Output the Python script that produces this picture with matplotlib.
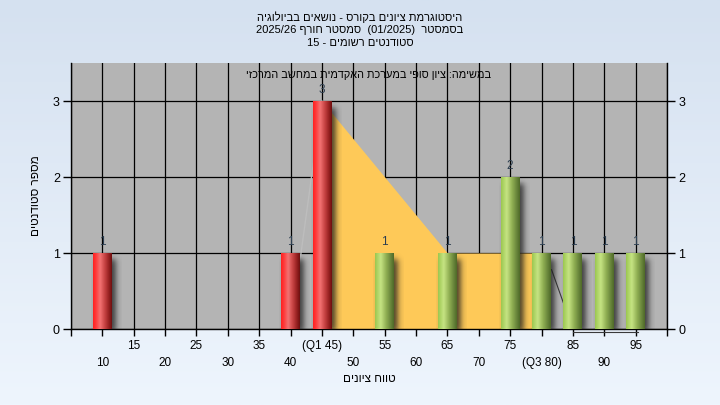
import re
import numpy as np
import matplotlib
matplotlib.use('Agg')
import matplotlib.pyplot as plt
from matplotlib.colors import LinearSegmentedColormap

plt.rcParams['font.family'] = ['Liberation Sans', 'DejaVu Sans']

# grade bins (centres) and number of students in each
bins = [10, 40, 45, 55, 65, 75, 80, 85, 90, 95]
counts = [1, 1, 3, 1, 1, 2, 1, 1, 1, 1]
q1, q3 = 45, 80

tick_vals = list(range(5, 101, 5))
tick_text = {45: '(Q1 45)', 80: '(Q3 80)'}

# yellow area between the quartiles
area_x = [45, 65, 78.5]
area_y = [3, 1, 1]
# faint helper lines
guide_x = [40, 45]
guide_y = [0, 3]
q3_x = [81.6, 83.5]
q3_y = [0.78, 0.34]
base_x = [85, 95.4]
base_y = [-0.035, -0.035]

title_lines = ['היסטוגרמת ציונים בקורס - נושאים בביולוגיה',
               'בסמסטר  (01/2025)  סמסטר חורף 2025/26',
               'סטודנטים רשומים - 15']
subtitle = 'במשימה: ציון סופי במערכת האקדמית במחשב המרכזי'
xlabel = 'טווח ציונים'
ylabel = 'מספר סטודנטים'


def rtl(s):
    # matplotlib has no bidi support -> build the visual order by hand
    r = s[::-1]
    r = re.sub(r'[0-9A-Za-z/.]+', lambda m: m.group(0)[::-1], r)
    return r.translate(str.maketrans('()', ')('))


def sig(t):
    return 1.0 / (1.0 + np.exp(-t))


red = LinearSegmentedColormap.from_list('red', [
    (0, '#ff2020'), (0.15, '#ff3a3a'), (0.38, '#f27272'),
    (0.62, '#c84444'), (0.85, '#962020'), (1, '#6e1010')])
green = LinearSegmentedColormap.from_list('green', [
    (0, '#9cc850'), (0.3, '#c6e483'), (0.6, '#8fae52'),
    (0.85, '#66833a'), (1, '#4f6a28')])
bgmap = LinearSegmentedColormap.from_list('bg', ['#d5e1f0', '#eef5fd'])

fig = plt.figure(figsize=(7.2, 4.05), dpi=100)
bg = fig.add_axes([0, 0, 1, 1], zorder=-10)
bg.imshow(np.linspace(0, 1, 200).reshape(-1, 1), cmap=bgmap, aspect='auto',
          extent=[0, 1, 0, 1])
bg.axis('off')

ax = fig.add_axes([71 / 720, 76 / 405, 596 / 720, 266 / 405])
ax.set_facecolor('#b4b4b4')
xmin, xmax, ymax = 5, 100, 3.5
px = (xmax - xmin) / 596.0
py = ymax / 266.0

ax.fill_between(area_x, 0, area_y, color='#fec958', lw=0, zorder=2)
ax.plot(guide_x, guide_y, color='#bdbdbd', lw=1, zorder=1.5)
ax.plot(q3_x, q3_y, color='#3a3a3a', lw=0.8, zorder=3)
ax.plot(base_x, base_y, color='#3a3a3a', lw=0.8, zorder=3, clip_on=False)

w = 3.0
grad = np.linspace(0, 1, 64).reshape(1, -1)
for x, c in zip(bins, counts):
    cmap = red if x <= q1 else green
    # soft drop shadow to the right
    sx0, sx1 = x - w / 2 + 4 * px, x + w / 2 + 4 * px
    sy0, sy1 = -3 * py, c - 6 * py
    xs = np.linspace(sx0 - 6 * px, sx1 + 6 * px, 80)
    ys = np.linspace(0, sy1 + 6 * py, 120)
    s = 1.8
    alx = sig((xs - sx0) / px / s) - sig((xs - sx1) / px / s)
    aly = sig((ys - sy0) / py / s) - sig((ys - sy1) / py / s)
    shadow = np.zeros((len(ys), len(xs), 4))
    shadow[..., :3] = 0.12
    shadow[..., 3] = np.outer(aly, alx) * 0.8
    ax.imshow(shadow, origin='lower', aspect='auto', zorder=3.5,
              extent=[xs[0], xs[-1], ys[0], ys[-1]])
    ax.imshow(grad, cmap=cmap, aspect='auto', zorder=4, interpolation='bilinear',
              extent=[x - w / 2, x + w / 2, 0, c])
    ax.text(x, c + 0.15, str(c), ha='center', va='center', fontsize=8.5,
            color='#2c3e50', zorder=6)

ax.set_xlim(xmin, xmax)
ax.set_ylim(0, ymax)

labels = []
for i, v in enumerate(tick_vals):
    if v in (5, 100):
        labels.append('')
        continue
    t = tick_text.get(v, str(v))
    labels.append(t if v % 10 == 5 else '\n' + t)
ax.set_xticks(tick_vals)
ax.set_xticklabels(labels)
for lbl in ax.get_xticklabels():
    lbl.set_linespacing(1.5)
ax.set_yticks([0, 1, 2, 3])

ax.tick_params(axis='x', length=5, width=1, labelsize=8.5, pad=3)
ax.tick_params(axis='y', left=True, right=True, labelleft=True, labelright=True,
               length=6, width=1, labelsize=9, pad=2)
ax.set_axisbelow(True)
ax.grid(True, color='black', lw=0.9)
ax.spines['top'].set_visible(False)
for side in ['left', 'right', 'bottom']:
    ax.spines[side].set_color('black')
    ax.spines[side].set_linewidth(1)

ax.set_xlabel(rtl(xlabel), fontsize=8.5, labelpad=3)
ax.set_ylabel(rtl(ylabel), fontsize=8.5, labelpad=8)
ax.text(0.5, 0.955, rtl(subtitle), transform=ax.transAxes, ha='center',
        va='center', fontsize=7.8, zorder=7)

for i, line in enumerate(title_lines):
    fig.text(0.5, 1 - (17 + 13 * i) / 405, rtl(line), ha='center', va='center',
             fontsize=8)

fig.savefig('out.png', dpi=100)
